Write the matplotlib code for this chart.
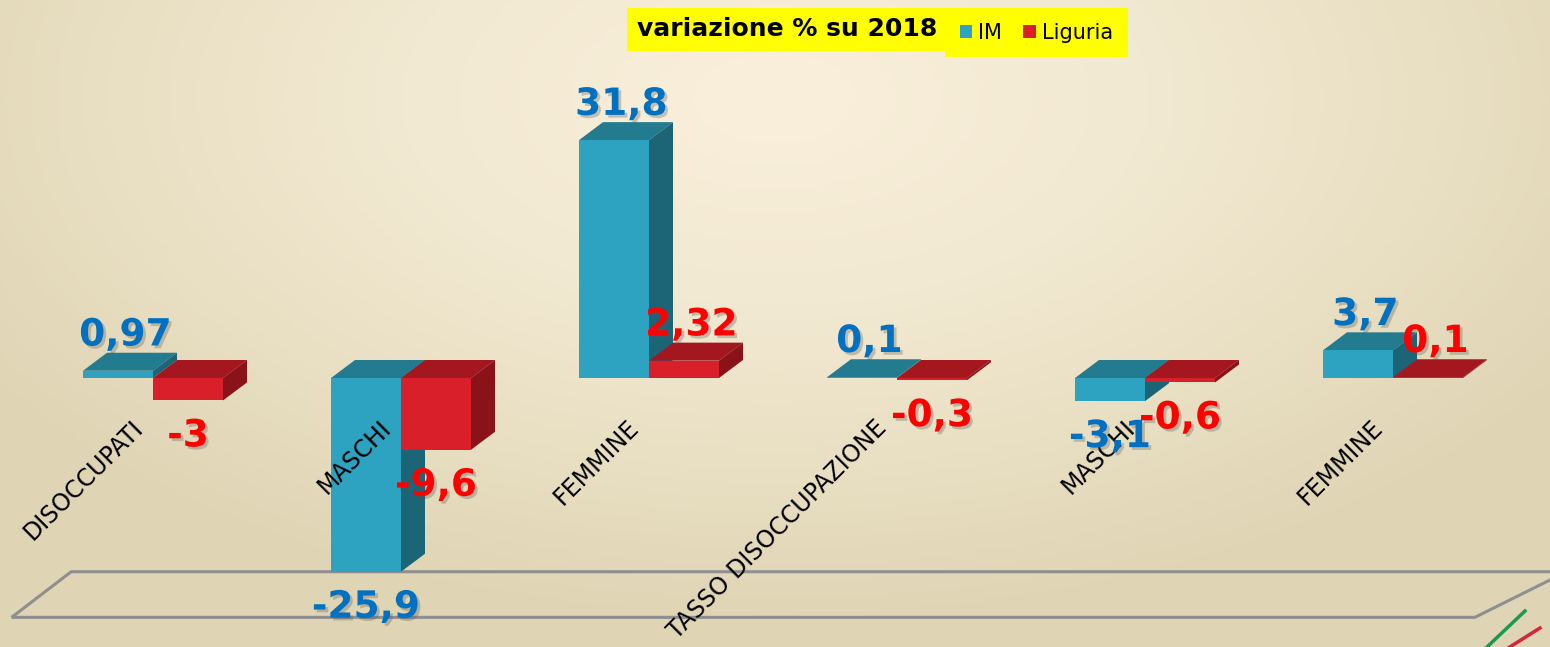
import matplotlib
matplotlib.use("Agg")
import numpy as np
import matplotlib.pyplot as plt
import matplotlib.patheffects as pe
from matplotlib.patches import Polygon, Patch
from matplotlib.lines import Line2D
from matplotlib.colors import LinearSegmentedColormap

# Data
categories = ["DISOCCUPATI", "MASCHI", "FEMMINE", "TASSO DISOCCUPAZIONE", "MASCHI", "FEMMINE"]
im_values = [0.97, -25.9, 31.8, 0.1, -3.1, 3.7]
liguria_values = [-3, -9.6, 2.32, -0.3, -0.6, 0.1]
series_names = ["IM", "Liguria"]

# Colours: front, top, side
im_cols = ("#2ea3c1", "#237b90", "#1c6577")
lig_cols = ("#d81f2a", "#a5171f", "#8a1219")
im_text = "#0070c0"
lig_text = "#ff0000"

W, H = 1550, 647
fig = plt.figure(figsize=(W / 100, H / 100), dpi=100)

# Background radial gradient
bg = fig.add_axes([0, 0, 1, 1])
bg.axis("off")
yy, xx = np.mgrid[0:1:200j, 0:1:400j]
r = np.sqrt(((xx - 0.5) * 1.0) ** 2 + ((yy - 0.15) * 0.75) ** 2)
cmap_bg = LinearSegmentedColormap.from_list("bg", ["#f8eed9", "#f2e9d2", "#e9dfc3", "#dfd4b3"])
bg.imshow(r, cmap=cmap_bg, extent=[0, 1, 1, 0], aspect="auto", vmin=0.05, vmax=0.62)
bg.set_xlim(0, 1)
bg.set_ylim(1, 0)

ax = fig.add_axes([0, 0, 1, 1])
ax.patch.set_alpha(0)
ax.axis("off")
ax.set_xlim(-153 / 248, (W - 153) / 248)
ax.set_ylim((378 - H) / 7.48, 378 / 7.48)

bw = 70 / 248          # bar width (data units)
ddx = 24 / 248         # depth offset x
ddy = 18 / 7.48        # depth offset y

# Floor
fb = min(im_values + liguria_values)
ff = fb - 6.1
floor = Polygon([(-0.57, ff), (-0.33, fb), (5.70, fb), (5.33, ff)], closed=True,
                fill=False, edgecolor="#8f8f8f", lw=2.2, zorder=1)
ax.add_patch(floor)


def bar3d(x0, v, cols):
    top = max(v, 0)
    bot = min(v, 0)
    front, topc, side = cols
    ax.add_patch(Polygon([(x0, top), (x0 + ddx, top + ddy), (x0 + bw + ddx, top + ddy), (x0 + bw, top)],
                         closed=True, facecolor=topc, edgecolor="none", zorder=3))
    ax.add_patch(Polygon([(x0 + bw, bot), (x0 + bw + ddx, bot + ddy), (x0 + bw + ddx, top + ddy), (x0 + bw, top)],
                         closed=True, facecolor=side, edgecolor="none", zorder=3))
    ax.bar(x0, v, width=bw, align="edge", color=front, zorder=3)


shadow = [pe.SimplePatchShadow(offset=(2, -2), alpha=0.3, shadow_rgbFace="#555555"), pe.Normal()]


def fmt(v):
    return f"{v:g}".replace(".", ",")


for i, (a, b) in enumerate(zip(im_values, liguria_values)):
    bar3d(i - bw, a, im_cols)
    bar3d(i, b, lig_cols)
    for x0, v, col in ((i - bw, a, im_text), (i, b, lig_text)):
        if v >= 0:
            ax.text(x0 + bw / 2 + 0.03, v + ddy - 0.1, fmt(v), ha="center", va="bottom",
                    color=col, fontsize=27, fontweight="bold", zorder=6, path_effects=shadow)
        else:
            ax.text(x0 + bw / 2, v - 2.4, fmt(v), ha="center", va="top",
                    color=col, fontsize=27, fontweight="bold", zorder=6, path_effects=shadow)
    ax.text(i - 0.09, -5.0, categories[i], rotation=45, rotation_mode="anchor",
            ha="right", va="top", fontsize=17, color="black", zorder=5)

# Title box
fig.text(787 / W, 1 - 29 / H, "variazione % su 2018", ha="center", va="center",
         fontsize=18, fontweight="bold", color="black",
         bbox=dict(boxstyle="square,pad=0.38", facecolor="#ffff00", edgecolor="none"))

# Legend
handles = [Patch(facecolor=im_cols[0]), Patch(facecolor=lig_cols[0])]
leg = fig.legend(handles, series_names, loc="upper left", bbox_to_anchor=(945 / W, 1 - 8 / H),
                 ncol=2, frameon=True, facecolor="#ffff00", edgecolor="none", framealpha=1,
                 fancybox=False, fontsize=15, handlelength=0.6, handleheight=0.6,
                 handletextpad=0.3, columnspacing=1.0, borderpad=0.7, borderaxespad=0)

# Small decorative strokes bottom right
fig.add_artist(Line2D([1487 / W, 1525 / W], [1 - 647 / H, 1 - 611 / H], color="#1a9a50", lw=2.5))
fig.add_artist(Line2D([1505 / W, 1540 / W], [1 - 650 / H, 1 - 628 / H], color="#d8243a", lw=2.5))

fig.savefig("out.png", dpi=100)
